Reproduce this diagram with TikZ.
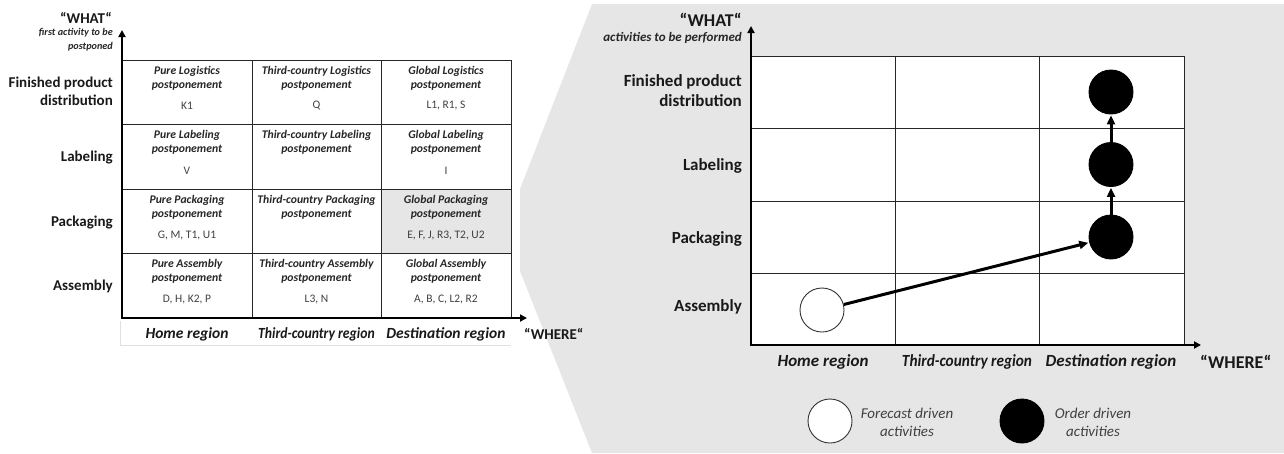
\documentclass[tikz,border=0pt]{standalone}
\usepackage{fontspec}
\setmainfont{Carlito}
\usetikzlibrary{arrows.meta}
\definecolor{panelgray}{HTML}{E6E6E6}
\definecolor{celltxt}{HTML}{262626}
\definecolor{codetxt}{HTML}{404040}
\tikzset{
  grid/.style={draw=black!85, line width=0.9pt},
  axisline/.style={draw=black, line width=2.6pt, -{Triangle[length=7pt,width=7pt]}},
  rowlab/.style={anchor=east, font=\fontsize{15}{18}\selectfont\bfseries, align=right, text=black!90, inner sep=0pt},
  rowlabR/.style={anchor=east, font=\fontsize{17}{20}\selectfont\bfseries, align=right, text=black!90, inner sep=0pt},
  celltitle/.style={font=\fontsize{11.7}{14}\selectfont\bfseries\itshape, align=center, text=celltxt, inner sep=0pt},
  cellcode/.style={font=\fontsize{11.5}{12}\selectfont, text=codetxt, inner sep=0pt},
  collab/.style={font=\fontsize{15.5}{17}\selectfont\bfseries\itshape, text=black!90, inner sep=0pt},
  collabR/.style={font=\fontsize{17}{19}\selectfont\bfseries\itshape, text=black!90, inner sep=0pt},
  whatlab/.style={font=\fontsize{15}{17}\selectfont\bfseries, text=black!90, inner sep=0pt},
  whatlabR/.style={font=\fontsize{18}{20}\selectfont\bfseries, text=black!90, inner sep=0pt},
  sublab/.style={font=\fontsize{10.2}{14}\selectfont\bfseries\itshape, align=right, text=celltxt, inner sep=0pt},
  sublabR/.style={font=\fontsize{13}{15}\selectfont\bfseries\itshape, text=celltxt, inner sep=0pt},
  dot/.style={circle, minimum size=44pt, inner sep=0pt, line width=0.9pt},
  fcdot/.style={dot, draw=black!80, fill=white},
  oddot/.style={dot, draw=black, fill=black},
  flow/.style={line width=3pt, -{Triangle[length=9pt,width=8pt]}, shorten >=1pt},
  legtxt/.style={font=\fontsize{15}{18}\selectfont\itshape, align=center, text=codetxt, inner sep=0pt},
}
\newcommand{\tcell}[6]{%
  \node[celltitle] (#6t) at (#1,#2+18) {#3\\#4};
  \node[cellcode] (#6c) at (#1,#2+46) {#5};
}
\begin{document}
\begin{tikzpicture}[x=1pt,y=-1pt]
\useasboundingbox (0,0) rectangle (1284,453);
% right panel background
\fill[panelgray] (592,4) -- (1284,4) -- (1284,453) -- (592,453) -- (520,271) -- (520,189) -- cycle;

% ===== LEFT TABLE =====
\fill[white] (120,321) rectangle (511,345);
\draw[black!12, line width=0.6pt] (120.5,321) -- (120.5,345.5) -- (511,345.5);
\fill[panelgray] (381,189) rectangle (511,253.5);
\draw[grid] (122,60) rectangle (511,318);
\foreach \x in {252,381} \draw[grid] (\x,60) -- (\x,318);
\foreach \y in {124.5,189,253.5} \draw[grid] (122,\y) -- (511,\y);
\draw[axisline] (122,319) -- (122,30);
\draw[axisline] (121,318) -- (527,318);

\tcell{187}{60}{Pure Logistics}{postponement}{K1}{a1}
\tcell{316.5}{60}{Third-country Logistics}{postponement}{Q}{a2}
\tcell{446}{60}{Global Logistics}{postponement}{L1, R1, S}{a3}
\tcell{187}{124.5}{Pure Labeling}{postponement}{V}{b1}
\tcell{316.5}{124.5}{Third-country Labeling}{postponement}{}{b2}
\tcell{446}{124.5}{Global Labeling}{postponement}{I}{b3}
\tcell{187}{189}{Pure Packaging}{postponement}{G, M, T1, U1}{c1}
\tcell{316.5}{189}{Third-country Packaging}{postponement}{}{c2}
\tcell{446}{189}{Global Packaging}{postponement}{E, F, J, R3, T2, U2}{c3}
\tcell{187}{253.5}{Pure Assembly}{postponement}{D, H, K2, P}{d1}
\tcell{316.5}{253.5}{Third-country Assembly}{postponement}{L3, N}{d2}
\tcell{446}{253.5}{Global Assembly}{postponement}{A, B, C, L2, R2}{d3}

\node[rowlab] (lr1) at (113,91) {Finished product\\distribution};
\node[rowlab] (lr2) at (113,158) {Labeling};
\node[rowlab] (lr3) at (113,223) {Packaging};
\node[rowlab] (lr4) at (113,286) {Assembly};

\node[collab] (lc1) at (187,334) {Home region};
\node[collab] (lc2) at (316.5,334) {\scalebox{0.885}[1]{Third-country region}};
\node[collab] (lc3) at (446,334) {Destination region};
\node[whatlab, anchor=west] (lwhere) at (524,334) {“WHERE“};

\node[whatlab, anchor=east] (lwhat) at (112,18) {“WHAT“};
\node[sublab, anchor=north east] (lsub) at (113,28) {first activity to be\\postponed};

% ===== RIGHT CHART =====
\fill[white] (751,56) rectangle (1184,345);
\draw[grid] (751,56) rectangle (1184,345);
\foreach \x in {895,1039} \draw[grid] (\x,56) -- (\x,345);
\foreach \y in {128.5,201,273} \draw[grid] (751,\y) -- (1184,\y);
\draw[axisline] (751,346) -- (751,26);
\draw[axisline] (750,345) -- (1201,345);

\node[rowlabR] (rr1) at (742,91) {Finished product\\distribution};
\node[rowlabR] (rr2) at (742,166) {Labeling};
\node[rowlabR] (rr3) at (742,239) {Packaging};
\node[rowlabR] (rr4) at (742,307) {Assembly};

\node[collabR] (rc1) at (823,362) {Home region};
\node[collabR] (rc2) at (967,362) {\scalebox{0.9}[1]{Third-country region}};
\node[collabR] (rc3) at (1111,362) {Destination region};
\node[whatlabR, anchor=west] (rwhere) at (1200,362) {“WHERE“};

\node[whatlabR, anchor=east] (rwhat) at (742,20) {“WHAT“};
\node[sublabR, anchor=east] (rsub) at (742,38) {activities to be performed};

\node[fcdot] (w) at (822,310) {};
\node[oddot] (p3) at (1111,237) {};
\node[oddot] (p2) at (1111,164.5) {};
\node[oddot] (p1) at (1111,92) {};
\draw[flow] (w) -- (p3);
\draw[flow] (p3) -- (p2);
\draw[flow] (p2) -- (p1);

% legend
\node[fcdot] (lgw) at (830,421) {};
\node[legtxt] (lgwt) at (907,422) {Forecast driven\\activities};
\node[oddot] (lgb) at (1022,421) {};
\node[legtxt] (lgbt) at (1093,422) {Order driven\\activities};
\end{tikzpicture}
\end{document}
